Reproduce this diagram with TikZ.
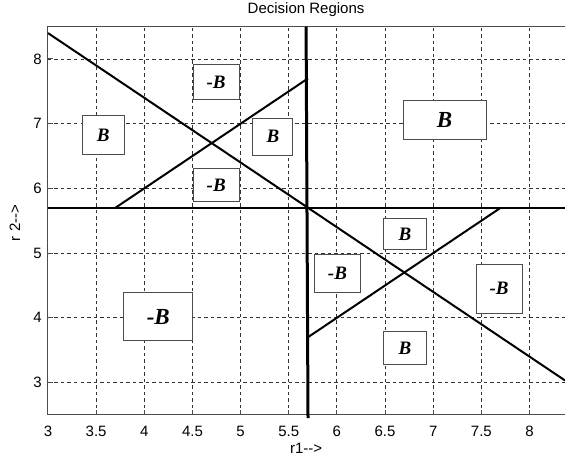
\documentclass[tikz,border=0pt]{standalone}
\usepackage{fontspec}
\setmainfont{Liberation Sans}
\newfontfamily\tms{Liberation Serif}
\begin{document}
\begin{tikzpicture}[x=96.3pt,y=64.7pt,
  gridl/.style={black!80,line width=0.9pt,dash pattern=on 3.5pt off 3pt},
  axl/.style={black!70,line width=1pt},
  dline/.style={black,line width=2pt},
  lbl/.style={inner sep=0pt,font=\fontsize{15}{15}\selectfont},
  regbox/.style={draw=black!70,fill=white,line width=1pt,inner sep=0pt,font=\tms\bfseries\itshape\fontsize{19}{19}\selectfont},
  bigbox/.style={regbox,font=\tms\bfseries\itshape\fontsize{23}{23}\selectfont}]
\useasboundingbox (2.5016,1.8485) rectangle (8.3687,8.9119);
% grid
\foreach \x in {3.5,4,4.5,5,5.5,6,6.5,7,7.5,8} \draw[gridl] (\x,2.5) -- (\x,8.5);
\foreach \y in {3,4,5,6,7,8} \draw[gridl] (3,\y) -- (8.37,\y);
% axes
\draw[axl] (8.37,8.5) -- (3,8.5) -- (3,2.5) -- (8.37,2.5);
\foreach \x [count=\i] in {3,3.5,4,4.5,5,5.5,6,6.5,7,7.5,8} {
  \draw[axl] (\x,2.5) -- ++(0,5pt);
  \node[lbl] (xt\i) at (\x,2.25) {\x};
}
\foreach \y [count=\i] in {3,4,5,6,7,8} {
  \draw[axl] (3,\y) -- ++(5pt,0);
  \node[lbl,anchor=east] (yt\i) at (2.938,\y) {\y};
}
% decision boundaries
\draw[dline] (3,8.4) -- (8.37,3.03);
\draw[dline] (3.7,5.7) -- (5.7,7.7);
\draw[dline] (5.7,3.7) -- (7.7,5.7);
\draw[dline] (3,5.7) -- (8.37,5.7);
\draw[black,line width=3pt] (5.68,8.5) -- (5.70,2.45);
% region labels
\node[regbox,minimum width=46pt,minimum height=35pt] (b1) at (4.745,7.637) {-B};
\node[regbox,minimum width=42pt,minimum height=38.6pt] (b2) at (3.574,6.825) {B};
\node[regbox,minimum width=45.7pt,minimum height=33pt] (b3) at (4.747,6.049) {-B};
\node[regbox,minimum width=40pt,minimum height=37pt] (b4) at (5.336,6.799) {B};
\node[bigbox,minimum width=82.7pt,minimum height=39.3pt] (b5) at (7.119,7.062) {B};
\node[bigbox,minimum width=68.7pt,minimum height=48.3pt] (b6) at (4.145,4.015) {-B};
\node[regbox,minimum width=43.4pt,minimum height=32.6pt] (b7) at (6.707,3.533) {B};
\node[regbox,minimum width=46.3pt,minimum height=49.3pt] (b8) at (7.685,4.450) {-B};
\node[regbox,minimum width=43.4pt,minimum height=31pt] (b9) at (6.707,5.298) {B};
\node[regbox,minimum width=46.4pt,minimum height=37.7pt] (b10) at (6.006,4.680) {-B};
% titles
\node[lbl] (title) at (5.68,8.757) {Decision Regions};
\node[lbl] (xlab) at (5.68,1.988) {r1{-}{-}>};
\node[lbl,rotate=90] (ylab) at (2.657,5.465) {r 2{-}{-}>};
\end{tikzpicture}
\end{document}
